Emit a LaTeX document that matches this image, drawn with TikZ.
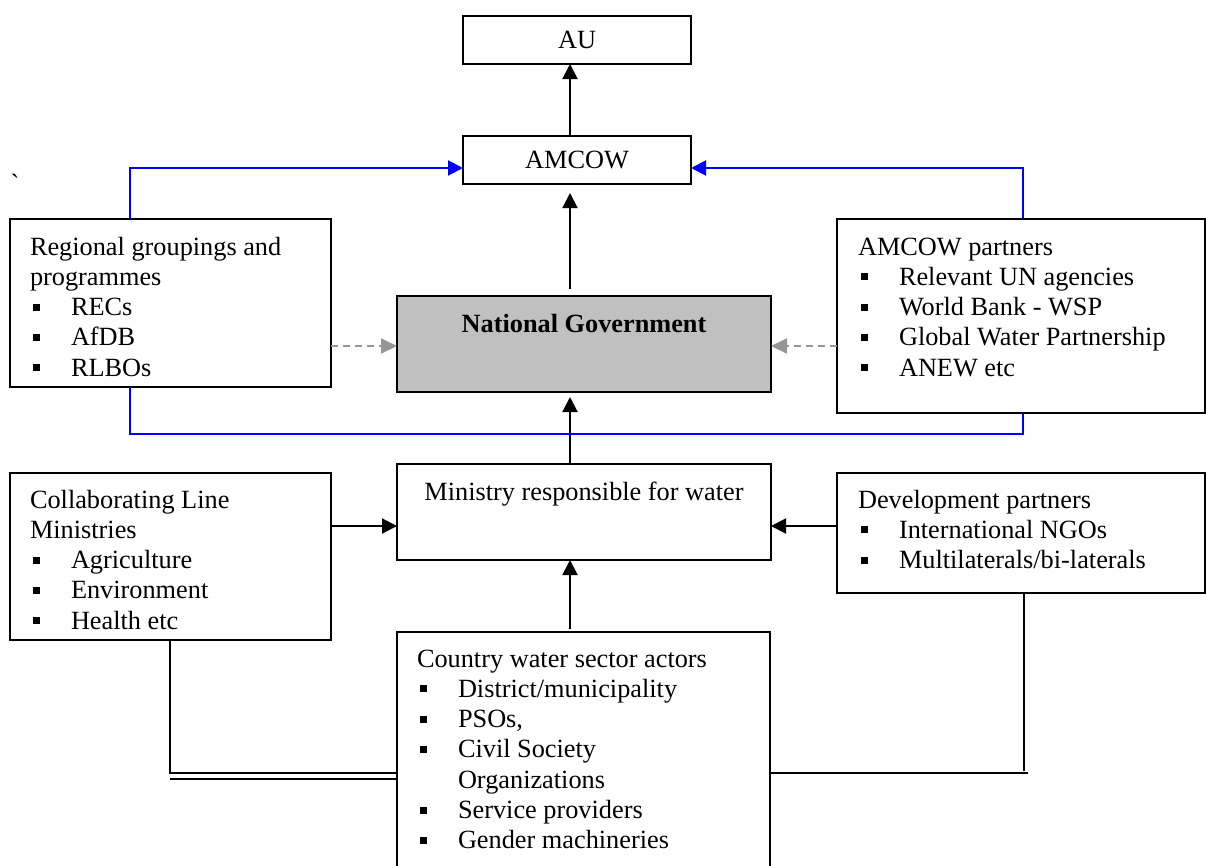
\documentclass[tikz,border=0pt]{standalone}
\usepackage{fontspec}
\setmainfont{Liberation Serif}
\newfontfamily\rawfont[Ligatures=TeXOff]{Liberation Serif}
\usetikzlibrary{arrows.meta}
\definecolor{silverfill}{RGB}{192,192,192}
\definecolor{dashgray}{RGB}{150,150,150}
\definecolor{linkblue}{RGB}{0,0,255}
\newcommand\bul{\hspace*{3pt}\rule[5pt]{7pt}{7pt}\hspace*{31pt}}
\newcommand\boxtxt[4]{\parbox[c][#2][t]{#1}{\raggedright\rule{0pt}{#3}#4}}
\newcommand\boxctr[4]{\parbox[c][#2][t]{#1}{\centering\rule{0pt}{#3}#4}}
\tikzset{
  boxst/.style={draw, line width=2pt, inner ysep=0pt, outer sep=0pt, anchor=north west},
  smallbox/.style={draw, line width=2pt, outer sep=0pt, minimum width=228pt, minimum height=48pt, inner sep=0pt},
  arr/.style={line width=2pt, -{Triangle[length=15pt,width=15pt]}},
  bluearr/.style={line width=2pt, draw=linkblue, -{Triangle[length=15pt,width=15pt]}},
  blueline/.style={line width=2pt, draw=linkblue},
  grayarr/.style={line width=2pt, draw=dashgray, dash pattern=on 7pt off 5pt, -{Triangle[length=16pt,width=15pt]}},
  plainline/.style={line width=2pt}
}
\begin{document}
\begin{tikzpicture}[x=1pt, y=-1pt, font=\fontsize{26.3}{30.3}\selectfont]
\useasboundingbox (0,0) rectangle (1206,865);
\fill[white] (0,0) rectangle (1206,865);

% helper coordinates
\coordinate (ax) at (570,0);
\coordinate (bl) at (130,168);
\coordinate (br) at (1023,168);
\coordinate (bbl) at (130,434);
\coordinate (bbr) at (1023,434);
\coordinate (dy) at (0,346);
\coordinate (my) at (0,526);
\coordinate (cl) at (170,773);
\coordinate (cl2) at (170,779);
\coordinate (cr) at (1024,771);
\coordinate (crend) at (1028,773);

% nodes
\node[smallbox] (au) at (577,40) {AU};
\node[smallbox] (amcow) at (577,160) {AMCOW};
\node[boxst, fill=silverfill, inner xsep=0pt] (natgov) at (397,296)
  {\boxctr{374pt}{96pt}{36pt}{\textbf{National Government}}};
\node[boxst, inner xsep=0pt] (ministry) at (397,464)
  {\boxctr{374pt}{96pt}{36pt}{Ministry responsible for water}};
\node[boxst, inner xsep=20pt] (regional) at (10,219)
  {\boxtxt{281pt}{168pt}{36pt}{Regional groupings and\\programmes\\\bul RECs\\\bul AfDB\\\bul RLBOs}};
\node[boxst, inner xsep=21pt] (partners) at (837,219)
  {\boxtxt{326pt}{194pt}{36pt}{AMCOW partners\\\bul Relevant UN agencies\\\bul World Bank - WSP\\\bul Global Water Partnership\\\bul ANEW etc}};
\node[boxst, inner xsep=20pt] (collab) at (10,473)
  {\boxtxt{281pt}{167pt}{35pt}{Collaborating Line\\Ministries\\\bul Agriculture\\\bul Environment\\\bul Health etc}};
\node[boxst, inner xsep=21pt] (devpart) at (837,473)
  {\boxtxt{326pt}{120pt}{35pt}{Development partners\\\bul International NGOs\\\bul Multilaterals/bi-laterals}};
\node[boxst, inner xsep=20pt] (country) at (397,632)
  {\boxtxt{333pt}{260pt}{35pt}{Country water sector actors\\\bul District/municipality\\\bul PSOs,\\\bul Civil Society\\\hspace*{41pt}Organizations\\\bul Service providers\\\bul Gender machineries}};
\node[inner sep=0pt] (tick) at (15,183) {\rawfont\char"60};

% vertical arrows
\draw[arr] (ax |- amcow.north) -- (ax |- au.south);
\draw[arr, shorten <=7pt, shorten >=9pt] (ax |- natgov.north) -- (ax |- amcow.south);
\draw[arr, shorten >=5pt] (ax |- ministry.north) -- (ax |- natgov.south);
\draw[arr, shorten <=3pt] (ax |- country.north) -- (ax |- ministry.south);

% blue connectors
\draw[bluearr] (bl |- regional.north) -- (bl) -- (bl -| amcow.west);
\draw[bluearr] (br |- partners.north) -- (br) -- (br -| amcow.east);
\draw[blueline] (bbl |- regional.south) -- (bbl) -- (bbr) -- (bbr |- partners.south);

% dashed gray arrows
\draw[grayarr] (regional.east |- dy) -- (natgov.west |- dy);
\draw[grayarr] (partners.west |- dy) -- (natgov.east |- dy);

% side arrows into ministry
\draw[arr] (collab.east |- my) -- (ministry.west |- my);
\draw[arr] (devpart.west |- my) -- (ministry.east |- my);

% bottom lines
\draw[plainline] (cl |- collab.south) -- (cl) -- (cl -| country.west);
\draw[plainline] (cl2) -- (cl2 -| country.west);
\draw[plainline] (cr |- devpart.south) -- (cr);
\draw[plainline] (crend -| country.east) -- (crend);
\end{tikzpicture}
\end{document}
